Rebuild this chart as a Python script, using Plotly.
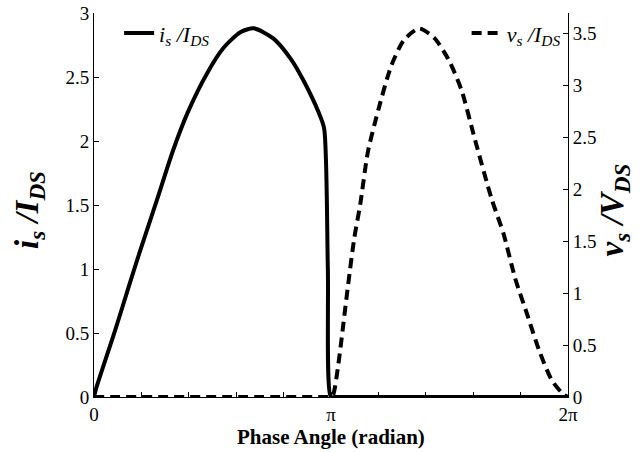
import math
import plotly.graph_objects as go

# Phase angle samples (radian) and normalised switch current i_s/I_DS
theta_i = [0.00, 0.03, 0.28, 0.47, 0.61, 0.84, 1.05, 1.24, 1.50, 1.72, 1.94,
           2.12, 2.38, 2.61, 2.77, 2.98, 3.05, 3.10, 3.14, 3.20, 6.2832]
i_s = [0.00, 0.07, 0.52, 0.88, 1.14, 1.55, 1.93, 2.22, 2.53, 2.73, 2.85,
       2.88, 2.80, 2.64, 2.48, 2.22, 2.10, 1.00, 0.00, 0.00, 0.00]

# Phase angle samples (radian) and normalised switch voltage v_s/V_DS
theta_v = [0.00, 3.10, 3.14, 3.17, 3.24, 3.30, 3.37, 3.45, 3.53, 3.63, 3.77,
           3.94, 4.11, 4.31, 4.51, 4.70, 4.87, 5.05, 5.27, 5.43, 5.58, 5.74,
           5.90, 6.07, 6.23, 6.2832]
v_s = [0.00, 0.00, 0.00, 0.02, 0.32, 0.67, 1.09, 1.53, 1.86, 2.36, 2.77,
       3.19, 3.44, 3.55, 3.46, 3.25, 2.96, 2.48, 1.91, 1.57, 1.15, 0.80,
       0.45, 0.16, 0.02, 0.00]

# x ticks every pi/5, labelled only at 0, pi and 2pi
x_tickvals = [k * math.pi / 5 for k in range(11)]
x_ticktext = ["0", "", "", "", "", "\u03c0", "", "", "", "", "2\u03c0"]

left_ticks = [0, 0.5, 1, 1.5, 2, 2.5, 3]
left_ticktext = ["0", "0.5", "1", "1.5", "2", "2.5", "3"]
right_ticks = [0, 0.5, 1, 1.5, 2, 2.5, 3, 3.5]
right_ticktext = ["0", "0.5", "1", "1.5", "2", "2.5", "3", "3.5"]

SERIF = "Liberation Serif"

fig = go.Figure()
fig.add_trace(go.Scatter(
    x=theta_i, y=i_s, mode="lines",
    name="<i>i<sub>s</sub> /I<sub>DS</sub></i>",
    line=dict(color="black", width=4, shape="spline", smoothing=0.7),
    legend="legend", showlegend=True,
))
fig.add_trace(go.Scatter(
    x=theta_v, y=v_s, mode="lines", yaxis="y2",
    name="<i>v<sub>s</sub> /I<sub>DS</sub></i>",
    line=dict(color="black", width=4, dash="10px,6px",
              shape="spline", smoothing=0.7),
    legend="legend2", showlegend=True,
))

axis_common = dict(
    showline=True, linecolor="black", linewidth=1,
    ticks="inside", ticklen=5, tickcolor="black", tickwidth=1,
    showgrid=False, zeroline=False, automargin=False,
)

fig.update_layout(
    width=642, height=452,
    margin=dict(l=94, r=74, t=13, b=55, autoexpand=False),
    paper_bgcolor="white", plot_bgcolor="white",
    font=dict(family=SERIF, color="black", size=19),
    showlegend=True,
    xaxis=dict(
        range=[0, 2 * math.pi],
        tickmode="array", tickvals=x_tickvals, ticktext=x_ticktext,
        tickfont=dict(family=SERIF, size=19, color="black"),
        **axis_common,
    ),
    yaxis=dict(
        range=[0, 3],
        tickmode="array", tickvals=left_ticks, ticktext=left_ticktext,
        tickfont=dict(family=SERIF, size=19, color="black"),
        **axis_common,
    ),
    yaxis2=dict(
        range=[0, 3.7], overlaying="y", side="right",
        tickmode="array", tickvals=right_ticks, ticktext=right_ticktext,
        tickfont=dict(family=SERIF, size=19, color="black"),
        **axis_common,
    ),
    legend=dict(
        x=0.053, y=1.002, xanchor="left", yanchor="top",
        bgcolor="rgba(0,0,0,0)", borderwidth=0,
        font=dict(family=SERIF, size=22, color="black"),
    ),
    legend2=dict(
        x=0.995, y=1.002, xanchor="right", yanchor="top",
        bgcolor="rgba(0,0,0,0)", borderwidth=0,
        font=dict(family=SERIF, size=22, color="black"),
    ),
    annotations=[
        dict(
            text="<b><i>i<sub>s</sub> /I<sub>DS</sub></i></b>",
            xref="paper", yref="paper", x=-0.135, y=0.487,
            textangle=-90, showarrow=False,
            font=dict(family=SERIF, size=33, color="black"),
            xanchor="center", yanchor="middle",
        ),
        dict(
            text="<b><i>v<sub>s</sub> /V<sub>DS</sub></i></b>",
            xref="paper", yref="paper", x=1.1, y=0.487,
            textangle=-90, showarrow=False,
            font=dict(family=SERIF, size=33, color="black"),
            xanchor="center", yanchor="middle",
        ),
        dict(
            text="<b>Phase Angle (radian)</b>",
            xref="paper", yref="paper", x=0.5, y=-0.103,
            showarrow=False,
            font=dict(family=SERIF, size=21, color="black"),
            xanchor="center", yanchor="middle",
        ),
    ],
)

fig.write_html("out.html")
